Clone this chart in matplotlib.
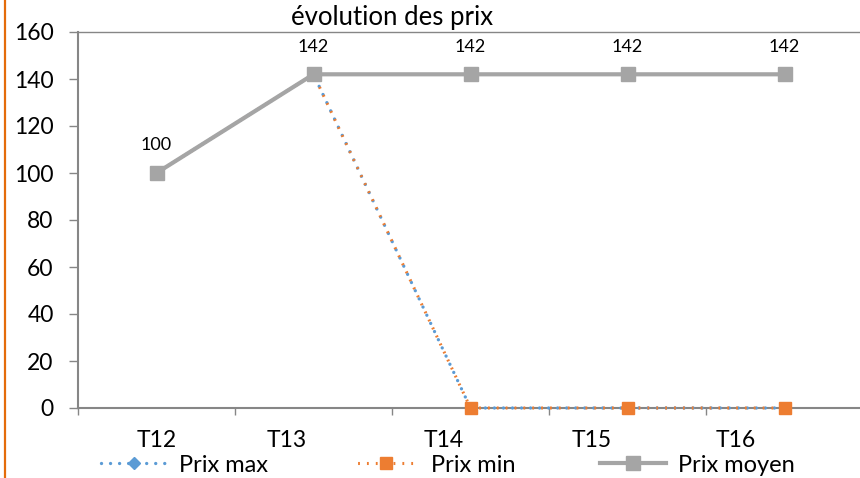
import matplotlib
matplotlib.use("Agg")
import matplotlib.pyplot as plt
from matplotlib.lines import Line2D

categories = ["T12", "T13", "T14", "T15", "T16"]
prix_max = [100, 142, 0, 0, 0]
prix_min = [100, 142, 0, 0, 0]
prix_moyen = [100, 142, 142, 142, 142]
series_names = ["Prix max", "Prix min", "Prix moyen"]
title = "évolution des prix"
yticks = [0, 20, 40, 60, 80, 100, 120, 140, 160]

# label offsets (rendering only): reference places category labels slightly left
label_shift = [0.0, -0.17, -0.17, -0.23, -0.31]

plt.rcParams['font.family'] = ['Lato', 'DejaVu Sans']

W, H = 860, 478
fig = plt.figure(figsize=(W / 100, H / 100), dpi=100)
ax = fig.add_axes([78 / W, 70 / H, 785 / W, 376 / H])

x = list(range(len(categories)))
blue = "#5B9BD5"
orange = "#ED7D31"
gray = "#A5A5A5"
axis_gray = "#868686"

l1, = ax.plot(x, prix_max, color=blue, lw=2.4, linestyle=(0, (0.01, 2.7)),
              dash_capstyle='round', marker='D', ms=6, mec=blue, mfc=blue, zorder=3,
              clip_on=False)
l2, = ax.plot(x, prix_min, color=orange, lw=2.2, linestyle=(1.4, (0.6, 2.3)),
              dash_capstyle='butt', marker='s', ms=8, mec=orange, mfc=orange, zorder=4,
              clip_on=False)
l3, = ax.plot(x, prix_moyen, color=gray, lw=3, linestyle='-', marker='s', ms=10,
              mec=gray, mfc=gray, zorder=5, clip_on=False)

for xi, v in zip(x, prix_moyen):
    ax.annotate(str(v), (xi, v), xytext=(0, 20), textcoords='offset points',
                ha='center', va='center', fontsize=13, color='black', zorder=6)

ax.set_xlim(-0.5, len(categories) - 0.5)
ax.set_ylim(0, 160)
ax.set_yticks(yticks)
ax.set_yticklabels([str(t) for t in yticks])
ax.tick_params(axis='y', direction='out', length=6.5, width=1, color=axis_gray,
               labelsize=16.5, pad=11)

ax.set_xticks([i - 0.5 for i in range(len(categories) + 1)])
ax.set_xticklabels([])
ax.tick_params(axis='x', which='major', direction='out', length=5, width=1, color=axis_gray)
ax.set_xticks([xi + s for xi, s in zip(x, label_shift)], minor=True)
ax.set_xticklabels(categories, minor=True)
ax.tick_params(axis='x', which='minor', length=0, labelsize=16.5, pad=16)

for s in ['left', 'bottom']:
    ax.spines[s].set_color(axis_gray)
    ax.spines[s].set_linewidth(1.5)
ax.spines['top'].set_color(axis_gray)
ax.spines['top'].set_linewidth(1.0)
ax.spines['right'].set_visible(False)

fig.text(392 / W, 1 - 17 / H, title, ha='center', va='center', fontsize=18.5)

# orange border line at the left
fig.add_artist(Line2D([4.5 / W, 4.5 / W], [0, 1], color="#E46C0A", lw=1.6,
                      transform=fig.transFigure))

fig.legend([l1, l2, l3], series_names, loc='center', bbox_to_anchor=(448 / W, 13 / H),
           ncol=3, frameon=False, fontsize=17, handlelength=2.8, handletextpad=0.5,
           columnspacing=3.6, borderpad=0, borderaxespad=0)

fig.savefig("out.png", dpi=100)
